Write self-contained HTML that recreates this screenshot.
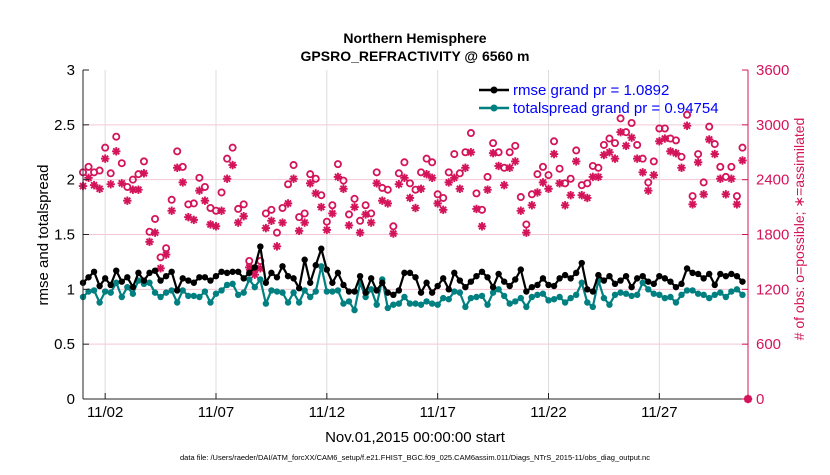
<!DOCTYPE html>
<html><head><meta charset="utf-8"><style>
body{margin:0;background:#fff;width:830px;height:470px;overflow:hidden}
svg{font-family:"Liberation Sans",Arial,sans-serif}
</style></head><body>
<svg id="chart" width="830" height="470" viewBox="0 0 830 470" xmlns="http://www.w3.org/2000/svg">
<text x="415" y="43" text-anchor="middle" font-size="14" font-weight="bold">Northern Hemisphere</text>
<text x="415" y="61" text-anchor="middle" font-size="14" font-weight="bold">GPSRO_REFRACTIVITY @ 6560 m</text>
<text transform="translate(48,235) rotate(-90)" text-anchor="middle" font-size="15">rmse and totalspread</text>
<text transform="translate(804,229) rotate(-90)" text-anchor="middle" font-size="14" fill="#d4145a"># of obs: o=possible; ∗=assimilated</text>
<text x="415" y="442" text-anchor="middle" font-size="15">Nov.01,2015 00:00:00 start</text>
<text x="415" y="460" text-anchor="middle" font-size="7.5">data file: /Users/raeder/DAI/ATM_forcXX/CAM6_setup/f.e21.FHIST_BGC.f09_025.CAM6assim.011/Diags_NTrS_2015-11/obs_diag_output.nc</text>
<g id="grid"></g><g id="marks"></g><g id="axes"></g>
<g>
<line x1="479" y1="90" x2="509" y2="90" stroke="#000" stroke-width="2.5"/><circle cx="494" cy="90" r="3.5" fill="#000"/>
<text x="513" y="95" font-size="15" fill="#0000ff">rmse grand pr = 1.0892</text>
<line x1="479" y1="108" x2="509" y2="108" stroke="#008080" stroke-width="2.5"/><circle cx="494" cy="108" r="3.5" fill="#008080"/>
<text x="513" y="113" font-size="15" fill="#0000ff">totalspread grand pr = 0.94754</text>
</g>
</svg>
<script>
const rmse=[1.06,1.11,1.16,1.03,1.10,1.04,1.17,1.07,1.11,1.02,1.15,1.08,1.15,1.17,1.08,1.12,1.16,0.99,1.10,1.08,1.06,1.11,1.11,1.08,1.12,1.16,1.15,1.16,1.16,1.10,1.15,1.20,1.39,1.06,1.15,1.11,1.21,1.12,1.10,1.01,1.27,
1.06,1.22,1.37,1.18,1.06,1.15,1.04,0.98,0.98,1.12,0.97,1.10,0.99,1.06,0.97,0.95,0.99,1.15,1.15,1.11,0.97,1.06,0.97,1.03,1.10,1.00,1.15,1.08,1.02,1.07,1.12,1.16,1.11,1.02,1.14,1.07,1.03,1.09,1.18,0.98,
1.02,1.04,1.10,1.04,1.03,1.10,1.13,1.10,1.15,1.24,1.00,0.98,1.13,1.08,1.12,1.05,1.08,1.12,1.02,1.10,1.12,1.07,1.05,1.12,1.10,1.07,1.02,1.05,1.19,1.15,1.14,1.10,1.14,1.04,1.14,1.12,1.14,1.12,1.07];
const spread=[0.93,0.98,0.99,0.88,0.98,0.97,1.06,0.93,1.02,0.96,1.08,1.05,1.06,0.97,0.93,0.97,0.99,0.88,0.99,0.94,0.94,0.93,0.98,0.88,0.96,0.99,1.04,1.05,0.95,0.97,1.09,1.02,1.09,0.87,0.99,0.98,0.97,0.88,0.97,0.88,0.99,
0.93,0.98,1.21,0.98,0.98,0.99,0.87,0.89,0.81,1.06,0.93,1.00,0.86,1.09,0.83,0.86,0.87,0.93,0.87,0.87,0.86,0.89,0.87,0.86,0.92,0.91,0.98,0.97,0.84,0.92,0.93,0.94,0.86,0.97,1.00,0.94,0.87,0.89,0.92,0.84,
0.93,0.95,0.96,0.90,0.91,0.93,0.88,0.92,0.95,1.06,0.88,0.84,1.08,0.92,0.86,0.95,0.97,0.96,0.94,0.95,1.06,1.00,0.96,0.95,0.92,0.93,0.88,0.95,0.99,0.99,0.96,0.95,0.92,0.95,0.97,0.93,0.98,1.00,0.95];
const possible=[2480,2540,2480,2500,2750,2470,2870,2580,2320,2400,2460,2600,1830,1970,1550,1650,2180,2710,2540,2130,2140,2420,2320,2090,2060,2260,2630,2750,2080,2130,1510,1430,1510,2030,2070,1820,2090,2350,2560,1990,2030,
2460,2410,2230,1940,2120,2570,2390,2020,2190,1950,2120,2030,2480,2310,2290,1890,2470,2590,2360,2290,2480,2630,2590,2240,2200,2480,2680,2470,2700,2910,2250,2070,2430,2800,2700,2530,2700,2770,2210,1910,
2240,2460,2540,2450,2820,2520,2360,2410,2720,2340,2360,2550,2530,2780,2850,2800,3070,2920,3020,2780,2630,2370,2600,2960,2960,2850,2830,2650,3110,2220,2680,2370,2980,2790,2540,2430,2540,2220,2750,0];
const assimilated=[2330,2420,2340,2300,2630,2350,2710,2360,2170,2290,2290,2470,1720,1820,1430,1580,2060,2530,2370,1990,1960,2280,2170,1910,1890,2060,2410,2560,1930,2000,1440,1360,1430,1870,1950,1670,1930,2140,2410,1840,1930,
2360,2250,2100,1850,2030,2430,2300,1900,2100,1820,2020,1930,2360,2170,2140,1810,2350,2420,2200,2090,2300,2460,2420,2140,2070,2370,2420,2300,2530,2700,2080,1890,2290,2690,2550,2340,2530,2600,2060,1820,
2120,2260,2370,2300,2680,2360,2120,2230,2600,2230,2200,2430,2430,2670,2700,2630,2920,2770,2860,2630,2480,2280,2450,2820,2850,2710,2690,2530,2990,2130,2590,2240,2840,2680,2410,2240,2410,2130,2610,0];
const leftTicks=[0,0.5,1,1.5,2,2.5,3];
const rightTicks=[0,600,1200,1800,2400,3000,3600];
const dayTicks=[1,6,11,16,21,26];
const dayLabels=["11/02","11/07","11/12","11/17","11/22","11/27"];
const stepDays=0.25;

const X0=83,X1=748,Y0=399,Y1=70;
const xs=d=>X0+d/30*(X1-X0);
const yl=v=>Y0-v/3*(Y0-Y1);
const yr=v=>Y0-v/3600*(Y0-Y1);
const NS="http://www.w3.org/2000/svg";
function mk(tag,parent,attrs){const e=document.createElementNS(NS,tag);for(const k in attrs)e.setAttribute(k,attrs[k]);parent.appendChild(e);return e;}
const grid=document.getElementById('grid'),marks=document.getElementById('marks'),axes=document.getElementById('axes');
const RED="#d4145a";
rightTicks.forEach(t=>{if(t>0&&t<3600){const l=mk('line',grid,{x1:X0,x2:X1,y1:yr(t),y2:yr(t),stroke:"#f3c6d6","stroke-width":1});

}});
dayTicks.forEach(d=>{const l=mk('line',grid,{x1:xs(d),x2:xs(d),y1:Y1,y2:Y0,stroke:"#dcdcdc","stroke-width":1});

});
possible.forEach((v,i)=>{const c=mk('circle',marks,{cx:xs(i*stepDays),cy:yr(v),r:3.1,fill:"none",stroke:RED,"stroke-width":1.8});

});
assimilated.forEach((v,i)=>{const x=xs(i*stepDays),y=yr(v);const g=mk('g',marks,{stroke:RED,"stroke-width":1.9});


[[0,4.2],[4.2,0],[3,3],[3,-3]].forEach(([a,b])=>mk('line',g,{x1:x-a,y1:y-b,x2:x+a,y2:y+b}));});
function series(arr,color,name){
 const pts=arr.map((v,i)=>xs(i*stepDays).toFixed(1)+','+yl(v).toFixed(1)).join(' ');
 const p=mk('polyline',marks,{points:pts,fill:"none",stroke:color,"stroke-width":2.2,"stroke-linejoin":"round"});
 
 
 arr.forEach((v,i)=>{const c=mk('circle',marks,{cx:xs(i*stepDays),cy:yl(v),r:3.2,fill:color});
 
 });
}
series(spread,"#008080","totalspread");
series(rmse,"#000000","rmse");
const la=mk('line',axes,{x1:X0,x2:X0,y1:Y1,y2:Y0,stroke:"#222","stroke-width":1});


const ra=mk('line',axes,{x1:X1,x2:X1,y1:Y1,y2:Y0,stroke:RED,"stroke-width":1});


const ba=mk('line',axes,{x1:X0,x2:X1,y1:Y0,y2:Y0,stroke:"#222","stroke-width":1});


leftTicks.forEach(t=>{mk('line',axes,{x1:X0,x2:X0+6,y1:yl(t),y2:yl(t),stroke:"#222"});
 const tx=mk('text',axes,{x:X0-8,y:yl(t)+5,"text-anchor":"end","font-size":15});tx.textContent=t;
 
 });
rightTicks.forEach(t=>{mk('line',axes,{x1:X1-6,x2:X1,y1:yr(t),y2:yr(t),stroke:RED});
 const tx=mk('text',axes,{x:X1+8,y:yr(t)+5,"font-size":15,fill:RED});tx.textContent=t;
 
 });
dayTicks.forEach((d,i)=>{mk('line',axes,{x1:xs(d),x2:xs(d),y1:Y0,y2:Y0-6,stroke:"#222"});
 const tx=mk('text',axes,{x:xs(d),y:Y0+18,"text-anchor":"middle","font-size":15});tx.textContent=dayLabels[i];
 
 });
</script>
</body></html>
